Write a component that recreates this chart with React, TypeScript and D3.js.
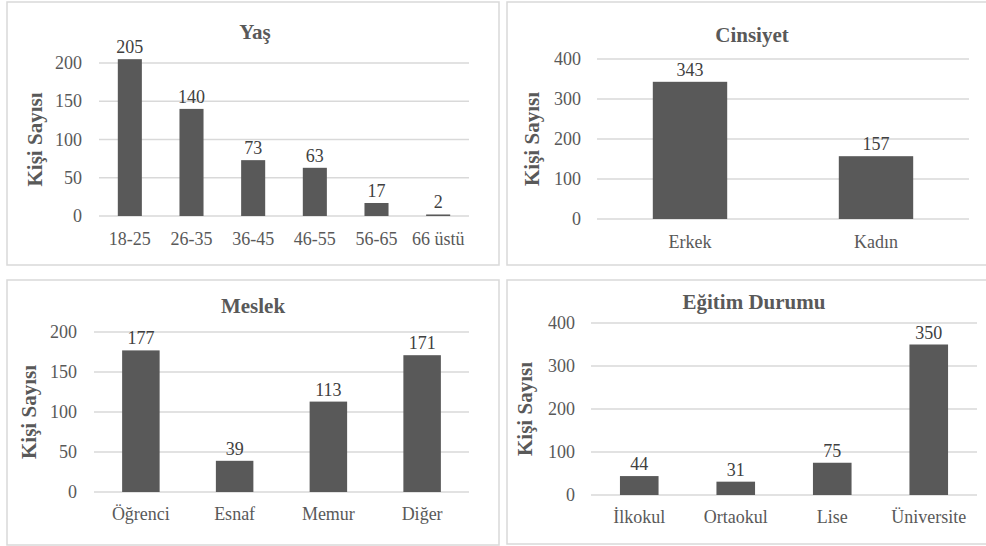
import * as d3 from 'd3';

// chart data
const ageCategories = ['18-25', '26-35', '36-45', '46-55', '56-65', '66 üstü'];
const ageValues = [205, 140, 73, 63, 17, 2];
const ageTicks = [0, 50, 100, 150, 200];

const genderCategories = ['Erkek', 'Kadın'];
const genderValues = [343, 157];
const genderTicks = [0, 100, 200, 300, 400];

const jobCategories = ['Öğrenci', 'Esnaf', 'Memur', 'Diğer'];
const jobValues = [177, 39, 113, 171];
const jobTicks = [0, 50, 100, 150, 200];

const eduCategories = ['İlkokul', 'Ortaokul', 'Lise', 'Üniversite'];
const eduValues = [44, 31, 75, 350];
const eduTicks = [0, 100, 200, 300, 400];

const FONT = '"Liberation Serif", "Times New Roman", serif';
const BAR = '#595959';
const GRID = '#d9d9d9';
const TEXT = '#595959';
const LABEL = '#404040';

type PanelProps = {
  title: string;
  categories: string[];
  values: number[];
  ticks: number[];
  box: { x: number; y: number; w: number; h: number };
  plot: { left: number; right: number; top: number; bottom: number };
  titleX: number;
  titleY: number;
  tickX: number;
  axisTitleX: number;
  xLabelY: number;
  barRatio: number;
};

const Panel = (p: PanelProps) => {
  const x = d3
    .scaleBand<string>()
    .domain(p.categories)
    .range([p.plot.left, p.plot.right])
    .paddingInner(1 - p.barRatio)
    .paddingOuter((1 - p.barRatio) / 2);

  const y = d3
    .scaleLinear()
    .domain([0, d3.max(p.ticks)!])
    .range([p.plot.bottom, p.plot.top]);

  const midY = (p.plot.top + p.plot.bottom) / 2;

  return (
    <g fontFamily={FONT}>
      <rect
        x={p.box.x}
        y={p.box.y}
        width={p.box.w}
        height={p.box.h}
        fill="#fff"
        stroke={GRID}
        strokeWidth={1.5}
      />
      <text x={p.titleX} y={p.titleY} textAnchor="middle" fontSize={21} fontWeight="bold" fill={TEXT}>
        {p.title}
      </text>

      {/* gridlines and y ticks */}
      {p.ticks.map((t) => (
        <g key={t}>
          <line x1={p.plot.left} x2={p.plot.right} y1={y(t)} y2={y(t)} stroke={GRID} strokeWidth={1.3} />
          <text x={p.tickX} y={y(t)} dy="0.34em" textAnchor="end" fontSize={18} fill={TEXT}>
            {t}
          </text>
        </g>
      ))}

      {/* bars */}
      {p.categories.map((c, i) => (
        <g key={c}>
          <rect
            x={x(c)!}
            y={y(p.values[i])}
            width={x.bandwidth()}
            height={y(0) - y(p.values[i])}
            fill={BAR}
          />
          <text
            x={x(c)! + x.bandwidth() / 2}
            y={y(p.values[i]) - 6}
            textAnchor="middle"
            fontSize={18}
            fill={LABEL}
          >
            {p.values[i]}
          </text>
          <text x={x(c)! + x.bandwidth() / 2} y={p.xLabelY} textAnchor="middle" fontSize={18} fill={TEXT}>
            {c}
          </text>
        </g>
      ))}

      <text
        transform={`translate(${p.axisTitleX},${midY}) rotate(-90)`}
        dy="0.35em"
        textAnchor="middle"
        fontSize={21}
        fontWeight="bold"
        fill={TEXT}
      >
        Kişi Sayısı
      </text>
    </g>
  );
};

const App = () => {
  return (
    <svg
      width={986}
      height={546}
      style={{ position: 'absolute', left: 0, top: 0, background: '#fff' }}
    >
      <Panel
        title="Yaş"
        categories={ageCategories}
        values={ageValues}
        ticks={ageTicks}
        box={{ x: 7, y: 2, w: 492, h: 263 }}
        plot={{ left: 99, right: 469, top: 63, bottom: 216 }}
        titleX={255}
        titleY={39}
        tickX={82}
        axisTitleX={35}
        xLabelY={245}
        barRatio={0.39}
      />
      <Panel
        title="Cinsiyet"
        categories={genderCategories}
        values={genderValues}
        ticks={genderTicks}
        box={{ x: 507, y: 2, w: 490, h: 263 }}
        plot={{ left: 597, right: 969, top: 59, bottom: 219 }}
        titleX={752}
        titleY={42}
        tickX={581}
        axisTitleX={532}
        xLabelY={248}
        barRatio={0.4}
      />
      <Panel
        title="Meslek"
        categories={jobCategories}
        values={jobValues}
        ticks={jobTicks}
        box={{ x: 7, y: 280, w: 492, h: 265 }}
        plot={{ left: 94, right: 469, top: 332, bottom: 492 }}
        titleX={253}
        titleY={313}
        tickX={77}
        axisTitleX={29}
        xLabelY={520}
        barRatio={0.4}
      />
      <Panel
        title="Eğitim Durumu"
        categories={eduCategories}
        values={eduValues}
        ticks={eduTicks}
        box={{ x: 507, y: 280, w: 490, h: 264 }}
        plot={{ left: 591, right: 977, top: 323, bottom: 495 }}
        titleX={754}
        titleY={309}
        tickX={575}
        axisTitleX={525}
        xLabelY={523}
        barRatio={0.4}
      />
    </svg>
  );
};

export default App;
